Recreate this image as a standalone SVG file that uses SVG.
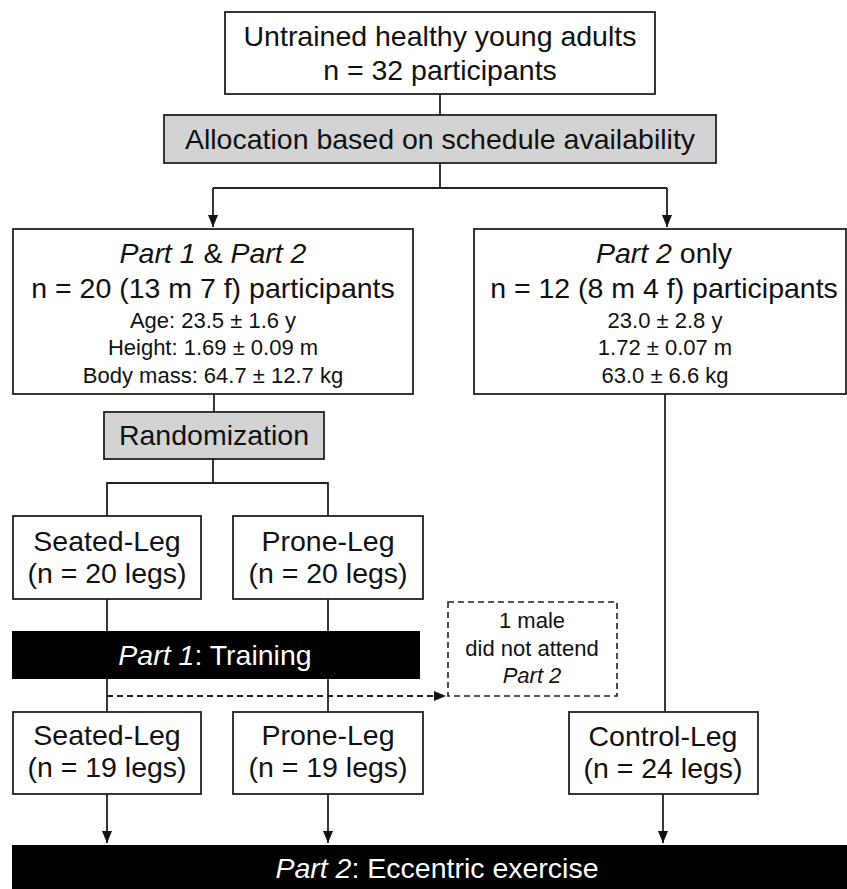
<svg xmlns="http://www.w3.org/2000/svg" width="847" height="889" viewBox="0 0 847 889">
<style>
text{font-family:"Liberation Sans",Arial,Helvetica,sans-serif;fill:#111;text-anchor:middle}
.b{font-size:28.5px}
.s{font-size:22px}
.w{fill:#fff}
.i{font-style:italic}
.box{fill:#fff;stroke:#222;stroke-width:1.8}
.grey{fill:#d3d3d3;stroke:#222;stroke-width:1.8}
.bar{fill:#000}
.dbox{fill:none;stroke:#222;stroke-width:1.6;stroke-dasharray:6 4}
.ln{fill:none;stroke:#222;stroke-width:1.8}
.dl{fill:none;stroke:#222;stroke-width:1.8;stroke-dasharray:6 4}
</style>
<defs>
<marker id="ah" viewBox="0 0 12 10" refX="12" refY="5" markerWidth="12" markerHeight="10" markerUnits="userSpaceOnUse" orient="auto">
<path d="M0,0 L12,5 L0,10 Z" fill="#111"/>
</marker>
</defs>
<rect width="847" height="889" fill="#fff"/>

<g id="connectors">
<line class="ln" x1="440" y1="94" x2="440" y2="115"/>
<line class="ln" x1="440" y1="163" x2="440" y2="188"/>
<line class="ln" x1="213" y1="188" x2="667" y2="188"/>
<line class="ln" x1="213" y1="188" x2="213" y2="227" marker-end="url(#ah)"/>
<line class="ln" x1="667" y1="188" x2="667" y2="227" marker-end="url(#ah)"/>
<line class="ln" x1="214" y1="394" x2="214" y2="412"/>
<polyline class="ln" points="107,516 107,483 328,483 328,516"/>
<line class="ln" x1="213" y1="459" x2="213" y2="483"/>
<line class="ln" x1="107" y1="599" x2="107" y2="712"/>
<line class="ln" x1="328" y1="599" x2="328" y2="712"/>
<line class="dl" x1="107" y1="696" x2="446" y2="696" marker-end="url(#ah)"/>
<line class="ln" x1="665" y1="394" x2="665" y2="712"/>
<line class="ln" x1="107" y1="794" x2="107" y2="843" marker-end="url(#ah)"/>
<line class="ln" x1="328" y1="794" x2="328" y2="843" marker-end="url(#ah)"/>
<line class="ln" x1="663" y1="794" x2="663" y2="843" marker-end="url(#ah)"/>
</g>

<g id="n_start">
<rect class="box" x="225" y="12" width="430" height="82"/>
<text class="b" x="440" y="46">Untrained healthy young adults</text>
<text class="b" x="440" y="80">n = 32 participants</text>
</g>

<g id="n_alloc">
<rect class="grey" x="164" y="115" width="552" height="48"/>
<text class="b" x="440" y="149">Allocation based on schedule availability</text>
</g>

<g id="n_part12">
<rect class="box" x="13" y="229" width="400" height="165"/>
<text class="b" x="213" y="263"><tspan class="i">Part 1</tspan> &amp; <tspan class="i">Part 2</tspan></text>
<text class="b" x="213" y="298">n = 20 (13 m 7 f) participants</text>
<text class="s" x="213" y="328">Age: 23.5 ± 1.6 y</text>
<text class="s" x="213" y="355">Height: 1.69 ± 0.09 m</text>
<text class="s" x="213" y="383">Body mass: 64.7 ± 12.7 kg</text>
</g>

<g id="n_part2only">
<rect class="box" x="474" y="229" width="372" height="165"/>
<text class="b" x="664" y="263"><tspan class="i">Part 2</tspan> only</text>
<text class="b" x="664" y="298">n = 12 (8 m 4 f) participants</text>
<text class="s" x="665" y="328">23.0 ± 2.8 y</text>
<text class="s" x="665" y="355">1.72 ± 0.07 m</text>
<text class="s" x="665" y="383">63.0 ± 6.6 kg</text>
</g>

<g id="n_random">
<rect class="grey" x="104" y="412" width="220" height="47"/>
<text class="b" x="214" y="445">Randomization</text>
</g>

<g id="n_seated1">
<rect class="box" x="13" y="516" width="188" height="83"/>
<text class="b" x="107" y="551">Seated-Leg</text>
<text class="b" x="107" y="583">(n = 20 legs)</text>
</g>

<g id="n_prone1">
<rect class="box" x="233" y="516" width="190" height="83"/>
<text class="b" x="328" y="551">Prone-Leg</text>
<text class="b" x="328" y="583">(n = 20 legs)</text>
</g>

<g id="n_training">
<rect class="bar" x="12" y="631" width="408" height="48"/>
<text class="b w" x="215" y="665"><tspan class="i">Part 1</tspan>: Training</text>
</g>

<g id="n_dropout">
<rect class="dbox" x="448" y="602" width="169" height="94"/>
<text class="s" x="532" y="628">1 male</text>
<text class="s" x="532" y="656">did not attend</text>
<text class="s i" x="532" y="683">Part 2</text>
</g>

<g id="n_seated2">
<rect class="box" x="13" y="712" width="188" height="82"/>
<text class="b" x="107" y="745">Seated-Leg</text>
<text class="b" x="107" y="777">(n = 19 legs)</text>
</g>

<g id="n_prone2">
<rect class="box" x="233" y="712" width="190" height="82"/>
<text class="b" x="328" y="745">Prone-Leg</text>
<text class="b" x="328" y="777">(n = 19 legs)</text>
</g>

<g id="n_control">
<rect class="box" x="569" y="712" width="189" height="82"/>
<text class="b" x="663" y="746">Control-Leg</text>
<text class="b" x="663" y="778">(n = 24 legs)</text>
</g>

<g id="n_eccentric">
<rect class="bar" x="12" y="845" width="835" height="44"/>
<text class="b w" x="437" y="878"><tspan class="i">Part 2</tspan>: Eccentric exercise</text>
</g>
</svg>
